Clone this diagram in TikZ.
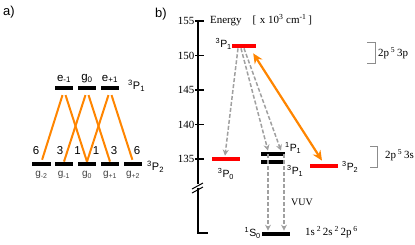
\documentclass[tikz,border=0pt]{standalone}
\usepackage{fontspec}
\setmainfont{Liberation Serif}
\setsansfont{Liberation Sans}
\usetikzlibrary{arrows.meta,positioning,calc}
\definecolor{laser}{RGB}{255,133,0}
\definecolor{decay}{RGB}{160,160,160}

\begin{document}
\begin{tikzpicture}[x=1bp,y=-1bp,
  every node/.style={font=\sffamily\fontsize{10.5}{11}\selectfont,inner sep=0pt},
  lvl/.style={fill=black,minimum width=18bp,minimum height=4.3bp,inner sep=0pt},
  redlvl/.style={lvl,fill=red,minimum width=24bp},
  pump/.style={draw=laser,line width=2bp},
  decayarr/.style={draw=decay,line width=1.5bp,dash pattern=on 4bp off 2bp,
    -{Stealth[length=6bp,width=6bp,fill=decay]}},
  serif/.style={font=\rmfamily\fontsize{11}{12}\selectfont},
  small/.style={font=\sffamily\fontsize{10}{11}\selectfont,text=black!75},
  bracket/.style={draw=black!45,line width=0.6bp}]

\useasboundingbox (0,0) rectangle (415,245);

% ---- a) Zeeman sublevels
\node[font=\sffamily\fontsize{13}{14}\selectfont] (lbla) at (9,12) {a)};

\foreach \n/\x in {m2/41.5,m1/64,0/87,p1/110,p2/133}
  \node[lvl] (g\n) at (\x,164) {};
\node[lvl] (em1) at (64,88) {};
\node[lvl] (eg0) at (87,88) {};
\node[lvl] (ep1) at (110,88) {};

\node[font=\sffamily\fontsize{11.5}{12}\selectfont,above=2.5bp of em1] (tem1) {e\textsubscript{-1}};
\node[font=\sffamily\fontsize{11.5}{12}\selectfont,above=2.5bp of eg0] (teg0) {g\textsubscript{0}};
\node[font=\sffamily\fontsize{11.5}{12}\selectfont,above=2.5bp of ep1] (tep1) {e\textsubscript{+1}};
\node[anchor=west,font=\sffamily\fontsize{11}{12}\selectfont] (P1a) at (128,86) {\textsuperscript{3}P\textsubscript{1}};
\node[anchor=west,font=\sffamily\fontsize{11}{12}\selectfont] (P2a) at (147,167) {\textsuperscript{3}P\textsubscript{2}};

\node[small,below=5bp of gm2] (tgm2) {g\textsubscript{-2}};
\node[small,below=5bp of gm1] (tgm1) {g\textsubscript{-1}};
\node[small,below=5bp of g0] (tg0) {g\textsubscript{0}};
\node[small,below=5bp of gp1] (tgp1) {g\textsubscript{+1}};
\node[small,below=5bp of gp2] (tgp2) {g\textsubscript{+2}};

\foreach \w/\x in {6/36,3/60,1/77.5,1/96,3/114,6/137}
  \node[font=\sffamily\fontsize{11.5}{12}\selectfont] (cg\x) at (\x,151) {\w};

\draw[pump,shorten <=5bp,shorten >=2bp] (em1.south) -- (gm2.north);
\draw[pump,shorten <=5bp] (em1.south) -- (g0.north);
\draw[pump,shorten <=5bp] (eg0.south) -- (gm1.north);
\draw[pump,shorten <=5bp] (eg0.south) -- (gp1.north);
\draw[pump,shorten <=5bp] (ep1.south) -- (g0.north);
\draw[pump,shorten <=5bp,shorten >=2bp] (ep1.south) -- (gp2.north);

% ---- b) energy levels
\node[font=\sffamily\fontsize{13}{14}\selectfont] (lblb) at (161,14) {b)};

\draw[line width=1.6bp] (198,21) -- (198,184);
\draw[line width=1.6bp] (198,188) -- (198,233) -- (208,233);
\draw[line width=1bp] (192,189) -- (203,183);
\draw[line width=1bp] (192,193) -- (203,187);
\foreach \e in {135,140,...,155} {
  \draw[line width=1.6bp] (195,{21+(155-\e)*6.9}) -- (204,{21+(155-\e)*6.9});
  \node[serif,anchor=east] (t\e) at (194.5,{21+(155-\e)*6.9}) {\e};
}
\node[serif,anchor=west] (energy) at (210,20.5)
  {Energy\quad[\,\,x 10\textsuperscript{3} cm\textsuperscript{-1}\,]};

\node[redlvl] (P1up) at (244,46) {};
\node[redlvl,minimum width=28bp] (P0) at (226,159) {};
\node[redlvl,minimum width=28bp] (P2) at (324,166) {};
\node[lvl,minimum width=24bp] (S1P1) at (273,154) {};
\node[lvl,minimum width=24bp] (T3P1) at (273,162) {};
\node[lvl,minimum width=28bp] (S0) at (276,234) {};

\node[anchor=east] (tP1up) at (232,44) {\textsuperscript{3}P\textsubscript{1}};
\node (tP0) at (226,174) {\textsuperscript{3}P\textsubscript{0}};
\node[anchor=west] (tS1P1) at (285,148) {\textsuperscript{1}P\textsubscript{1}};
\node[anchor=west] (tT3P1) at (287,171) {\textsuperscript{3}P\textsubscript{1}};
\node[anchor=west] (tP2) at (342,167) {\textsuperscript{3}P\textsubscript{2}};
\node[anchor=east] (tS0) at (261,233) {\textsuperscript{1}S\textsubscript{0}};

% decay channels
\draw[decayarr] ($(P1up.south)+(-6,0)$) -- ($(P0.north)+(-1,-1)$);
\draw[decayarr] ($(P1up.south)+(-3,0)$) -- ($(S1P1.north)+(-5,-1)$);
\draw[decayarr] ($(P1up.south)+(0,0)$) -- ($(S1P1.north)+(8,-1)$);
\draw[decayarr] ($(S1P1.south)+(-5,-2)$) -- ($(S0.north)+(-8,-1)$);
\draw[decayarr] ($(S1P1.south)+(11,-2)$) -- ($(S0.north)+(8,-1)$);

% cooling transition
\draw[pump,line width=2.2bp,{Stealth[length=10bp,width=9bp]}-{Stealth[length=10bp,width=9bp]}]
  ($(P1up.south east)+(-3,5)$) -- ($(P2.north)+(-2,-3)$);

\node[font=\rmfamily\fontsize{10}{11}\selectfont] (vuv) at (302,202) {VUV};
\node[serif,anchor=west] (conf) at (305,232)
  {1s\,\textsuperscript{2}\,2s\,\textsuperscript{2}\,2p\,\textsuperscript{6}};

\draw[bracket] (367,42) -- (375,42) -- (375,63) -- (367,63);
\node[serif,anchor=west] (c3p) at (378,53) {2p\,\textsuperscript{5}\,3p};
\draw[bracket] (370,146) -- (377,146) -- (377,167) -- (370,167);
\node[serif,anchor=west] (c3s) at (385,155) {2p\,\textsuperscript{5}\,3s};
\end{tikzpicture}
\end{document}
